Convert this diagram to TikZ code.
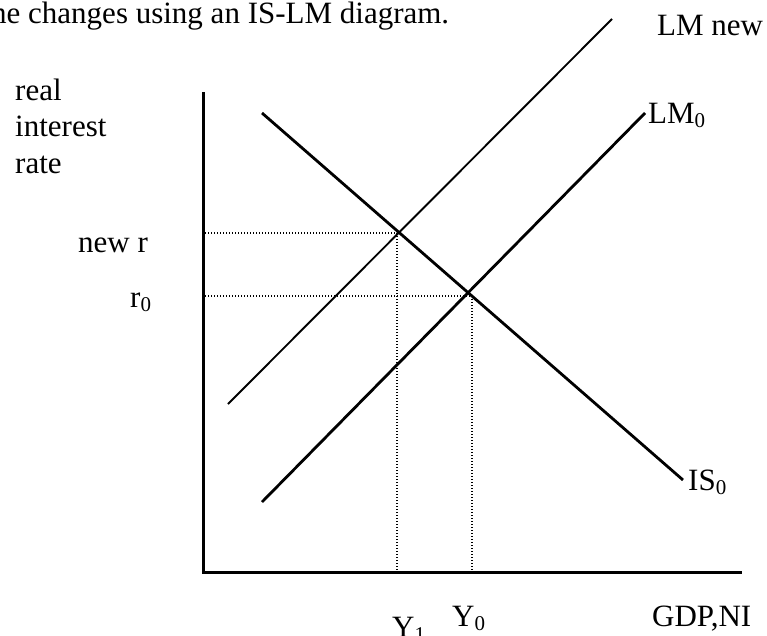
\documentclass[tikz,border=0pt]{standalone}
\usepackage{fontspec}
\setmainfont{Liberation Serif}
\newcommand{\sbz}[1]{\raisebox{-0.16em}{\fontsize{21}{21}\selectfont #1}}
\tikzset{
  lbl/.style={inner sep=0pt, anchor=base west, font=\fontsize{31}{36}\selectfont},
  axisline/.style={line width=3pt},
  thickcurve/.style={line width=2.8pt},
  thincurve/.style={line width=1.9pt},
  guide/.style={line width=1.3pt, dash pattern=on 1.3pt off 1.7pt},
}
\begin{document}
\begin{tikzpicture}[x=1pt,y=-1pt]
\useasboundingbox (0,0) rectangle (767,635);
% axes
\coordinate (ytop) at (203,92);
\coordinate (orig) at (203,572);
\coordinate (xend) at (742,572);
\draw[axisline] (ytop) -- (orig) -- (xend);
% curves
\coordinate (lmnA) at (228,404);
\coordinate (lmnB) at (612,19);
\coordinate (lm0A) at (262,502);
\coordinate (lm0B) at (645,113);
\coordinate (isA) at (262,113);
\coordinate (isB) at (683,480);
\draw[thincurve] (lmnA) -- (lmnB);
\draw[thickcurve] (lm0A) -- (lm0B);
\draw[thickcurve] (isA) -- (isB);
% guides
\coordinate (e1) at (397,233);
\coordinate (e0) at (472,296);
\coordinate (rnewaxis) at (205,233);
\coordinate (r0axis) at (205,296);
\coordinate (y1axis) at (397,572);
\coordinate (y0axis) at (472,572);
\draw[guide] (rnewaxis) -- (e1) -- (y1axis);
\draw[guide] (r0axis) -- (e0) -- (y0axis);
% labels
\node[lbl] (title) at (-9,23) {he changes using an IS-LM diagram.};
\node[lbl] (lmnew) at (657,35) {LM new};
\node[lbl] (lm0) at (648,123) {LM\sbz{0}};
\node[lbl] (is0) at (688,490) {IS\sbz{0}};
\node[lbl] (real) at (15,100) {real};
\node[lbl] (interest) at (15,136) {interest};
\node[lbl] (rate) at (15,173) {rate};
\node[lbl] (newr) at (78,252) {new r};
\node[lbl] (r0) at (130,307) {r\sbz{0}};
\node[lbl] (y1) at (392,637) {Y\sbz{1}};
\node[lbl] (y0) at (452,626) {Y\sbz{0}};
\node[lbl] (gdp) at (652,626) {GDP,NI};
\end{tikzpicture}
\end{document}
